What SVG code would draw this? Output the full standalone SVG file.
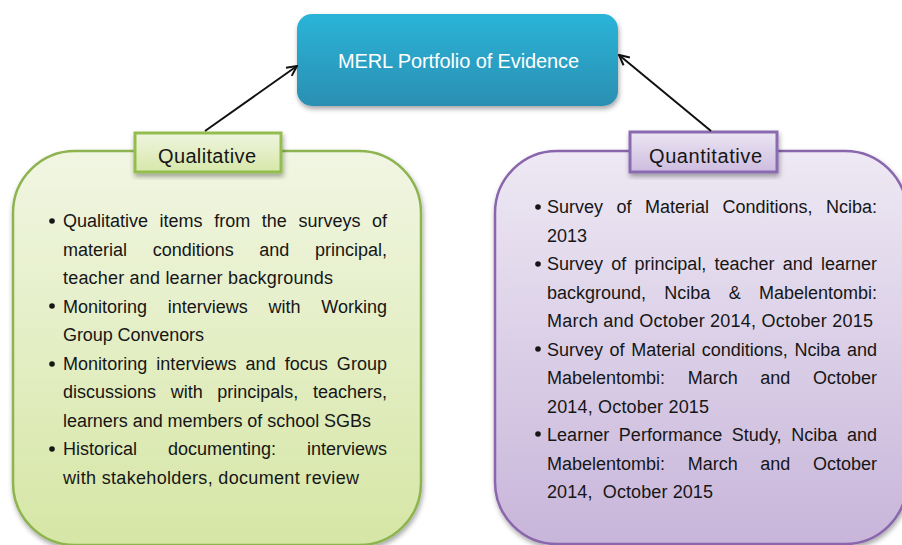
<svg xmlns="http://www.w3.org/2000/svg" width="902" height="545" viewBox="0 0 902 545">
<style>
.t{font-family:"Liberation Sans",Arial,sans-serif;font-size:18px;fill:#161616}
.lbl{font-family:"Liberation Sans",Arial,sans-serif;font-size:20px;fill:#161616;text-anchor:middle}
.conn{stroke:#111;stroke-width:2;fill:none}
</style>
<defs>
<linearGradient id="gTop" x1="0" y1="0" x2="0" y2="1"><stop offset="0" stop-color="#2cb4d8"/><stop offset="1" stop-color="#2a8fb2"/></linearGradient>
<linearGradient id="gGreen" x1="0" y1="0" x2="0" y2="1"><stop offset="0" stop-color="#f1f6e3"/><stop offset="1" stop-color="#d6e6a5"/></linearGradient>
<linearGradient id="gPurple" x1="0" y1="0" x2="0" y2="1"><stop offset="0" stop-color="#eee9f4"/><stop offset="1" stop-color="#c8b5da"/></linearGradient>
<linearGradient id="gGreenL" x1="0" y1="0" x2="0" y2="1"><stop offset="0" stop-color="#eff5df"/><stop offset="1" stop-color="#d7e7aa"/></linearGradient>
<linearGradient id="gPurpleL" x1="0" y1="0" x2="0" y2="1"><stop offset="0" stop-color="#ece6f3"/><stop offset="1" stop-color="#cdbcdf"/></linearGradient>
<filter id="sh" x="-10%" y="-10%" width="120%" height="130%"><feDropShadow dx="1" dy="3" stdDeviation="2.5" flood-color="#000" flood-opacity="0.35"/></filter>
<marker id="arr" viewBox="0 0 12 12" refX="11" refY="6" markerWidth="12" markerHeight="12" markerUnits="userSpaceOnUse" orient="auto"><path d="M1,1 L11,6 L1,11" fill="none" stroke="#111" stroke-width="2"/></marker>
</defs>
<rect width="902" height="545" fill="#fff"/>

<g id="qualitative-box">
<rect x="13" y="151" width="408" height="394" rx="62" ry="62" fill="url(#gGreen)" stroke="#8db44f" stroke-width="2.5" filter="url(#sh)"/>
<g fill="#161616">
<circle cx="52" cy="221" r="2.8"/><circle cx="52" cy="306" r="2.8"/><circle cx="52" cy="364" r="2.8"/><circle cx="52" cy="449" r="2.8"/>
</g>
<text class="t" x="63" y="227" style="word-spacing:6.6px" textLength="324" lengthAdjust="spacing">Qualitative items from the surveys of</text>
<text class="t" x="63" y="255.5" style="word-spacing:20.6px" textLength="324" lengthAdjust="spacing">material conditions and principal,</text>
<text class="t" x="63" y="284" textLength="270" lengthAdjust="spacing">teacher and learner backgrounds</text>
<text class="t" x="63" y="312.5" style="word-spacing:15.7px" textLength="324" lengthAdjust="spacing">Monitoring interviews with Working</text>
<text class="t" x="63" y="341" textLength="141" lengthAdjust="spacing">Group Convenors</text>
<text class="t" x="63" y="369.5" style="word-spacing:4px" textLength="324" lengthAdjust="spacing">Monitoring interviews and focus Group</text>
<text class="t" x="63" y="398" style="word-spacing:9.6px" textLength="324" lengthAdjust="spacing">discussions with principals, teachers,</text>
<text class="t" x="63" y="426.5" textLength="308" lengthAdjust="spacing">learners and members of school SGBs</text>
<text class="t" x="63" y="455" style="word-spacing:26px" textLength="324" lengthAdjust="spacing">Historical documenting: interviews</text>
<text class="t" x="63" y="483.5" textLength="296" lengthAdjust="spacing">with stakeholders, document review</text>
</g>

<g id="quantitative-box">
<rect x="495" y="151" width="412" height="393" rx="62" ry="62" fill="url(#gPurple)" stroke="#8a66ad" stroke-width="2.5" filter="url(#sh)"/>
<g fill="#161616">
<circle cx="538" cy="207" r="2.8"/><circle cx="538" cy="264" r="2.8"/><circle cx="538" cy="349" r="2.8"/><circle cx="538" cy="434" r="2.8"/>
</g>
<text class="t" x="547" y="213" style="word-spacing:8.5px" textLength="330" lengthAdjust="spacing">Survey of Material Conditions, Nciba:</text>
<text class="t" x="547" y="241.5" textLength="40" lengthAdjust="spacing">2013</text>
<text class="t" x="547" y="270" style="word-spacing:3.2px" textLength="330" lengthAdjust="spacing">Survey of principal, teacher and learner</text>
<text class="t" x="547" y="298.5" style="word-spacing:13.3px" textLength="330" lengthAdjust="spacing">background, Nciba &amp; Mabelentombi:</text>
<text class="t" x="547" y="327" textLength="326" lengthAdjust="spacing">March and October 2014, October 2015</text>
<text class="t" x="547" y="355.5" style="word-spacing:1.6px" textLength="330" lengthAdjust="spacing">Survey of Material conditions, Nciba and</text>
<text class="t" x="547" y="384" style="word-spacing:17.6px" textLength="330" lengthAdjust="spacing">Mabelentombi: March and October</text>
<text class="t" x="547" y="412.5" textLength="162" lengthAdjust="spacing">2014, October 2015</text>
<text class="t" x="547" y="441" style="word-spacing:4.5px" textLength="330" lengthAdjust="spacing">Learner Performance Study, Nciba and</text>
<text class="t" x="547" y="469.5" style="word-spacing:17.6px" textLength="330" lengthAdjust="spacing">Mabelentombi: March and October</text>
<text class="t" x="547" y="498" textLength="166" lengthAdjust="spacing" xml:space="preserve">2014,  October 2015</text>
</g>

<g id="merl">
<rect x="297" y="14" width="321" height="92" rx="15" ry="15" fill="url(#gTop)" filter="url(#sh)"/>
<text class="lbl" x="458.5" y="68" style="fill:#ffffff" textLength="241" lengthAdjust="spacing">MERL Portfolio of Evidence</text>
</g>

<g id="qualitative-label">
<rect x="135" y="133" width="146" height="39" fill="url(#gGreenL)" stroke="#93bd50" stroke-width="3" filter="url(#sh)"/>
<text class="lbl" x="207" y="163" textLength="98" lengthAdjust="spacing">Qualitative</text>
</g>

<g id="quantitative-label">
<rect x="630" y="132" width="147" height="40" fill="url(#gPurpleL)" stroke="#8a6bb0" stroke-width="3" filter="url(#sh)"/>
<text class="lbl" x="705.5" y="163" textLength="113" lengthAdjust="spacing">Quantitative</text>
</g>

<g id="connectors">
<line class="conn" x1="205" y1="131" x2="297" y2="66" marker-end="url(#arr)"/>
<line class="conn" x1="711" y1="131" x2="619" y2="55" marker-end="url(#arr)"/>
</g>
</svg>
